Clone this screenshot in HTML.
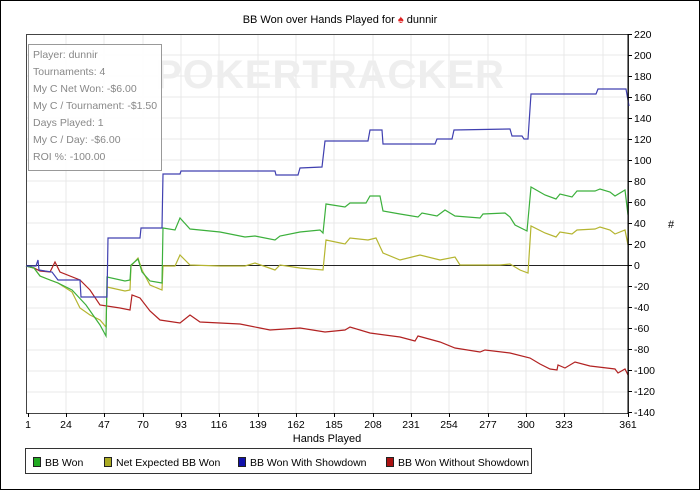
<!DOCTYPE html>
<html><head><meta charset="utf-8"><style>
body{margin:0;background:#fff;}
svg{display:block;font-family:"Liberation Sans",sans-serif;}
</style></head><body>
<svg width="700" height="490" viewBox="0 0 700 490">
<rect x="0.5" y="0.5" width="699" height="489" fill="#fff" stroke="#000"/>
<text x="340" y="23" font-size="11" text-anchor="middle" fill="#000">BB Won over Hands Played for <tspan fill="#d22">♠</tspan> dunnir</text>
<g stroke="#e8e8e8" stroke-width="1">
<path d="M66 34V413M104 34V413M143 34V413M181 34V413M219 34V413M258 34V413M296 34V413M334 34V413M373 34V413M411 34V413M449 34V413M488 34V413M526 34V413M564 34V413M603 34V413"/>
<path d="M26 55H628M26 76H628M26 97H628M26 118H628M26 139H628M26 160H628M26 181H628M26 202H628M26 223H628M26 244H628M26 287H628M26 308H628M26 329H628M26 350H628M26 371H628M26 392H628"/>
</g>
<text x="330" y="88" font-size="40" font-weight="bold" fill="#eeeeee" text-anchor="middle" letter-spacing="1">POKERTRACKER</text>
<rect x="26.5" y="34.5" width="602" height="379" fill="none" stroke="#444"/>
<line x1="26" y1="265.5" x2="628" y2="265.5" stroke="#222"/>
<rect x="28.5" y="44.5" width="133" height="126" fill="#fff" fill-opacity="0.9" stroke="#999"/>
<g font-size="10.5" fill="#888">
<text x="33" y="58">Player: dunnir</text>
<text x="33" y="75">Tournaments: 4</text>
<text x="33" y="92">My C Net Won: -$6.00</text>
<text x="33" y="109">My C / Tournament: -$1.50</text>
<text x="33" y="126">Days Played: 1</text>
<text x="33" y="143">My C / Day: -$6.00</text>
<text x="33" y="160">ROI %: -100.00</text>
</g>
<g fill="none" stroke-width="1.2">
<polyline stroke="#b22222" points="26,266 34,268 40,271 50,272 55,262 60,272 80,280 90,290 100,305 120,308 130,310 132,295 140,298 150,311 160,320 180,323 190,315 200,322 240,324 260,328 270,330 300,328 325,332 345,330 350,327 370,333 400,337 415,341 418,336 440,342 455,348 480,352 485,350 510,353 530,358 540,364 550,369 557,370 558,365 565,368 575,362 590,366 615,369 618,373 625,369 628,375"/>
<polyline stroke="#b5b530" points="26,266 34,268 40,276 50,280 58,283 72,292 80,308 90,315 100,320 106,327 107,287 125,291 130,290 131,266 138,258 142,270 150,285 162,290 163,266 175,266 180,255 190,265 220,266 245,266 255,263 275,270 280,265 300,268 323,270 326,240 345,244 350,238 368,240 376,238 383,253 400,260 420,255 440,260 455,257 460,265 500,265 510,264 520,270 528,273 531,226 545,233 556,237 560,232 572,234 577,230 595,229 600,227 610,230 615,234 625,230 628,245"/>
<polyline stroke="#3cb03c" points="26,266 34,268 40,276 50,280 58,283 72,290 86,305 100,325 106,336 107,277 125,281 130,280 131,265 138,259 142,272 150,281 162,283 163,228 175,230 180,218 190,229 220,232 245,237 255,236 275,240 280,236 300,232 320,230 323,233 326,204 345,207 350,203 366,203 370,196 380,196 383,211 400,214 418,217 422,213 437,216 445,210 455,216 480,218 483,214 505,213 510,217 515,225 527,231 531,187 545,195 556,199 560,194 572,197 577,191 595,191 600,189 610,192 615,196 625,190 628,215"/>
<polyline stroke="#4040b0" points="26,266 36,266 38,260 39,270 45,271 52,272 58,280 80,280 81,297 107,297 108,238 140,238 141,228 162,228 163,174 180,174 181,171 275,171 276,175 298,175 300,168 322,167 325,141 368,141 370,130 382,130 383,144 435,144 437,139 452,139 454,130 510,129 512,136 522,136 524,139 528,139 531,94 596,94 598,89 626,89 629,106"/>
</g>
<g font-size="10.5" fill="#000">
<g stroke="#000"><path d="M628 34v380M628 34.5h4M628 55.5h4M628 76.5h4M628 97.5h4M628 118.5h4M628 139.5h4M628 160.5h4M628 181.5h4M628 202.5h4M628 223.5h4M628 244.5h4M628 265.5h4M628 286.5h4M628 307.5h4M628 328.5h4M628 349.5h4M628 370.5h4M628 391.5h4M628 412.5h4"/></g>
<text x="634" y="38">220</text><text x="634" y="59">200</text><text x="634" y="80">180</text><text x="634" y="101">160</text><text x="634" y="122">140</text><text x="634" y="143">120</text><text x="634" y="164">100</text><text x="634" y="185">80</text><text x="634" y="206">60</text><text x="634" y="227">40</text><text x="634" y="248">20</text><text x="634" y="269">0</text><text x="634" y="290">-20</text><text x="634" y="311">-40</text><text x="634" y="332">-60</text><text x="634" y="353">-80</text><text x="634" y="374">-100</text><text x="634" y="395">-120</text><text x="634" y="416">-140</text>
<text x="668" y="228" font-size="11">#</text>
<g stroke="#000"><path d="M28.5 413v4M66.5 413v4M104.5 413v4M143.5 413v4M181.5 413v4M219.5 413v4M258.5 413v4M296.5 413v4M334.5 413v4M373.5 413v4M411.5 413v4M449.5 413v4M488.5 413v4M526.5 413v4M564.5 413v4M628.5 413v4"/></g>
<g text-anchor="middle">
<text x="28" y="428">1</text><text x="66" y="428">24</text><text x="104" y="428">47</text><text x="143" y="428">70</text><text x="181" y="428">93</text><text x="219" y="428">116</text><text x="258" y="428">139</text><text x="296" y="428">162</text><text x="334" y="428">185</text><text x="373" y="428">208</text><text x="411" y="428">231</text><text x="449" y="428">254</text><text x="488" y="428">277</text><text x="526" y="428">300</text><text x="564" y="428">323</text><text x="628" y="428">361</text>
<text x="327" y="442" font-size="11">Hands Played</text>
</g>
<rect x="25.5" y="448.5" width="506" height="25" fill="#fff" stroke="#333"/>
<rect x="33.5" y="457.5" width="7" height="9" fill="#22aa22" stroke="#222"/>
<text x="45" y="466">BB Won</text>
<rect x="104.5" y="457.5" width="7" height="9" fill="#aaaa22" stroke="#222"/>
<text x="116" y="466">Net Expected BB Won</text>
<rect x="238.5" y="457.5" width="7" height="9" fill="#1111aa" stroke="#222"/>
<text x="250" y="466">BB Won With Showdown</text>
<rect x="386.5" y="457.5" width="7" height="9" fill="#aa1111" stroke="#222"/>
<text x="398" y="466">BB Won Without Showdown</text>
</g>
</svg>
</body></html>
